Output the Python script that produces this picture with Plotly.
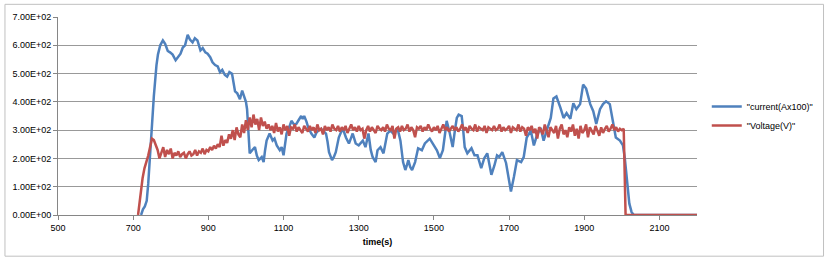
import plotly.graph_objects as go

# current (A x100)
cur_t = [721, 726, 731, 736, 740, 747, 755, 762, 766, 772, 779, 785, 792, 798, 805, 813, 820, 826,
         832, 838, 845, 851, 858, 864, 871, 879, 885, 892, 898, 905, 911, 918, 925, 931, 937, 944,
         950, 956, 963, 967, 971, 977, 984, 990, 994, 1000, 1003, 1007, 1010, 1017, 1024, 1029,
         1034, 1042, 1047, 1051, 1055, 1063, 1071, 1076, 1082, 1090, 1095, 1100, 1104, 1108, 1115,
         1121, 1128, 1134, 1140, 1147, 1151, 1155, 1161, 1166, 1174, 1182, 1187, 1192, 1200, 1207,
         1213, 1217, 1221, 1229, 1234, 1239, 1243, 1247, 1252, 1258, 1266, 1274, 1279, 1284, 1292,
         1300, 1311, 1318, 1326, 1332, 1337, 1345, 1350, 1358, 1366, 1371, 1376, 1384, 1392, 1403,
         1411, 1418, 1424, 1428, 1432, 1437, 1442, 1450, 1458, 1468, 1476, 1489, 1497, 1508, 1516,
         1524, 1530, 1534, 1542, 1550, 1556, 1561, 1566, 1574, 1578, 1582, 1589, 1600, 1608, 1616,
         1626, 1634, 1642, 1653, 1661, 1668, 1674, 1682, 1692, 1700, 1705, 1713, 1721, 1732, 1739,
         1747, 1758, 1766, 1774, 1784, 1792, 1800, 1811, 1818, 1826, 1837, 1845, 1853, 1863, 1871,
         1879, 1889, 1897, 1905, 1916, 1924, 1932, 1942, 1950, 1958, 1968, 1976, 1984, 1995, 2003,
         2008, 2014, 2020, 2026, 2032, 2200]
cur_v = [0, 20, 30, 50, 110, 270, 420, 530, 568, 600, 617, 605, 580, 575, 567, 547, 560, 570,
         592, 600, 637, 620, 610, 625, 617, 582, 590, 575, 570, 558, 540, 530, 525, 505, 513, 495,
         489, 505, 499, 470, 437, 430, 409, 440, 426, 400, 374, 300, 218, 230, 240, 210,
         194, 205, 187, 230, 263, 288, 263, 270, 246, 229, 240, 211, 250, 288, 310,
         333, 320, 322, 335, 350, 340, 350, 330, 308, 288, 274, 290, 298, 305, 295,
         288, 260, 222, 194, 205, 222, 250, 274, 290, 305, 274, 253, 270, 288, 253,
         246, 263, 240, 288, 230, 205, 187, 229, 240, 218, 260, 288, 298, 288, 308,
         263, 187, 159, 175, 194, 170, 159, 187, 236, 229, 253, 270, 253, 229, 201,
         229, 290, 333, 291, 240, 300, 343, 355, 350, 300, 240, 218, 236, 211, 211,
         166, 201, 218, 142, 175, 211, 205, 222, 184, 125, 83, 135, 194, 187, 205,
         274, 298, 246, 281, 308, 263, 298, 343, 412, 419, 378, 343, 360, 340, 395,
         374, 392, 461, 447, 392, 367, 322, 374, 392, 402, 392, 333, 274, 263, 246,
         200, 120, 40, 10, 0, 0]

# voltage (V)
volt_t = [713, 720, 725, 730, 735, 740, 745, 750, 755] + list(range(760, 2010, 5)) + [2010, 2200]
volt_v = [0, 90, 130, 165, 185, 210, 240, 270, 265,
          250, 230, 200, 225, 240, 205, 230, 215, 235, 200, 220, 210, 225, 205, 215, 220, 200, 215, 225, 210,
          215, 230, 210, 225, 220, 235, 215, 230, 225, 240, 230, 245, 235, 250, 240, 280, 245, 265, 255, 285,
          270, 300, 265, 310, 285, 275, 320, 290, 335, 300, 345, 310, 355, 320, 340, 300, 345, 315, 330, 305,
          320, 300, 315, 290, 325, 295, 310, 285, 320, 300, 315, 280, 310, 305, 320, 295, 310, 300, 290, 315,
          305, 295, 315, 300, 310, 290, 320, 300, 305, 285, 315, 300, 310, 295, 320, 305, 300, 315, 295, 310,
          300, 315, 290, 305, 320, 300, 310, 295, 315, 300, 305, 270, 300, 315, 295, 310, 300, 290, 315, 305,
          300, 310, 295, 320, 305, 300, 315, 270, 305, 310, 295, 315, 300, 305, 320, 295, 310, 300, 275, 310,
          305, 315, 295, 310, 300, 320, 305, 295, 310, 300, 315, 290, 305, 320, 300, 310, 295, 305, 315, 300,
          310, 295, 305, 320, 300, 310, 290, 315, 305, 300, 320, 295, 310, 305, 300, 315, 290, 310, 305, 300,
          315, 300, 305, 320, 295, 310, 300, 305, 315, 290, 310, 305, 300, 320, 295, 310, 305, 280, 310, 300,
          315, 290, 305, 270, 310, 300, 285, 320, 295, 275, 310, 300, 290, 315, 270, 305, 320, 285, 300, 275,
          310, 295, 320, 280, 305, 270, 315, 290, 300, 320, 275, 310, 295, 285, 315, 300, 280, 310, 290, 305,
          315, 295, 305, 320, 300, 310, 295, 305, 300, 305,
          0, 0]

y_ticks = [0, 100, 200, 300, 400, 500, 600, 700]
y_labels = ["0.00E+00", "1.00E+02", "2.00E+02", "3.00E+02", "4.00E+02", "5.00E+02", "6.00E+02", "7.00E+02"]
x_ticks = [500, 700, 900, 1100, 1300, 1500, 1700, 1900, 2100]

fig = go.Figure()
fig.add_trace(go.Scatter(x=cur_t, y=cur_v, mode="lines", name='"current(Ax100)"',
                         line=dict(color="#4f81bd", width=2.5)))
fig.add_trace(go.Scatter(x=volt_t, y=volt_v, mode="lines", name='"Voltage(V)"',
                         line=dict(color="#c0504d", width=2.5)))

fig.update_layout(
    width=830, height=265,
    margin=dict(l=55, r=131, t=14, b=50),
    paper_bgcolor="white", plot_bgcolor="white",
    font=dict(family="Liberation Sans", size=9, color="#000"),
    showlegend=True,
    legend=dict(x=1.189, y=0.5, xanchor="right", yanchor="middle",
                font=dict(size=9), itemwidth=30, tracegroupgap=6),
    xaxis=dict(range=[500, 2200], tickvals=x_ticks, showgrid=False, zeroline=False,
               showline=True, linecolor="#868686", linewidth=1,
               ticks="outside", ticklen=4, tickcolor="#868686",
               title=dict(text="<b>time(s)</b>", font=dict(size=9), standoff=6)),
    yaxis=dict(range=[0, 700], tickvals=y_ticks, ticktext=y_labels,
               showgrid=True, gridcolor="#999999", gridwidth=1, zeroline=False,
               showline=True, linecolor="#868686", linewidth=1,
               ticks="outside", ticklen=4, tickcolor="#868686"),
    shapes=[dict(type="rect", xref="paper", yref="paper",
                 x0=-0.083, x1=1.198, y0=-0.208, y1=1.064,
                 line=dict(color="#c0c0c0", width=1), fillcolor="rgba(0,0,0,0)", layer="below")],
)

# page has a default 8px body margin; drop it so the chart sits at the window origin
fig.write_html("out.html", config={"displayModeBar": False},
               post_script="document.body.style.margin='0px';")
